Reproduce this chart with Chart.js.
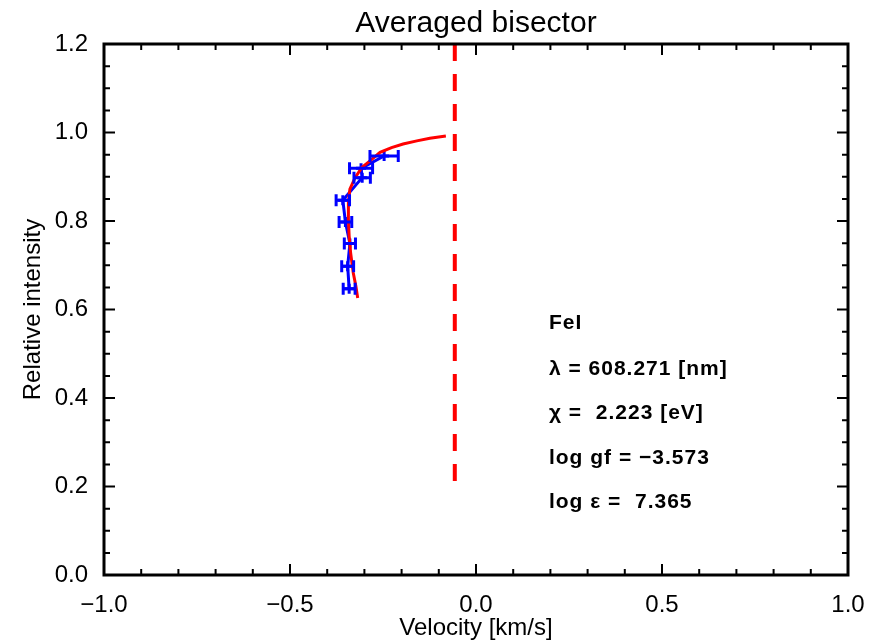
<!DOCTYPE html>
<html>
<head>
<meta charset="utf-8">
<script src="https://cdn.jsdelivr.net/npm/chart.js@4"></script>
<style>
    html, body { margin: 0; padding: 0; background: #fff; }
    #wrap { width: 875px; height: 643px; }
</style>
</head>
<body>
<div id="wrap"><canvas id="bisChart" width="875" height="643"></canvas></div>
<script>
// Red curve: averaged bisector (velocity km/s, relative intensity)
const curveVel = [-0.318, -0.323, -0.330, -0.337, -0.341, -0.343, -0.343, -0.339, -0.325,
                  -0.307, -0.285, -0.258, -0.227, -0.196, -0.159, -0.124, -0.081];
const curveInt = [0.626, 0.653, 0.683, 0.728, 0.766, 0.804, 0.842, 0.872, 0.898,
                  0.921, 0.936, 0.955, 0.966, 0.974, 0.981, 0.987, 0.992];

// Blue points with horizontal error bars
const pointVel = [-0.341, -0.345, -0.339, -0.351, -0.358, -0.306, -0.309, -0.247];
const pointInt = [0.647, 0.698, 0.749, 0.798, 0.847, 0.898, 0.919, 0.947];
const pointErr = [0.016, 0.016, 0.015, 0.017, 0.018, 0.022, 0.031, 0.038];

// Reference (lab) velocity, dashed line (drawn top to bottom)
const refVel = [-0.057, -0.057];
const refInt = [1.2, 0.19];

// Line info text
const infoLines = ["FeI", "\u03bb = 608.271 [nm]", "\u03c7 =  2.223 [eV]",
                   "log gf = \u22123.573", "log \u03b5 =  7.365"];
const infoInt = [0.57, 0.464, 0.366, 0.264, 0.164];

const fontName = "'Liberation Sans', Arial, sans-serif";
const fmt = v => (v < 0 ? "\u2212" : "") + Math.abs(v).toFixed(1);

// frame with inward major/minor ticks on all four sides
const framePlugin = {
    id: "frame",
    afterDatasetsDraw(chart) {
        const ctx = chart.ctx;
        const a = chart.chartArea;
        const xs = chart.scales.x, ys = chart.scales.y;
        ctx.save();
        ctx.strokeStyle = "#000";
        ctx.lineWidth = 3;
        ctx.strokeRect(a.left, a.top, a.right - a.left, a.bottom - a.top);
        ctx.lineWidth = 2;
        ctx.beginPath();
        for (let i = -10; i <= 10; i++) {
            const px = xs.getPixelForValue(i / 10);
            const len = i % 5 === 0 ? 11 : 6;
            ctx.moveTo(px, a.bottom); ctx.lineTo(px, a.bottom - len);
            ctx.moveTo(px, a.top); ctx.lineTo(px, a.top + len);
        }
        for (let j = 0; j <= 24; j++) {
            const py = ys.getPixelForValue(j * 0.05);
            const len = j % 4 === 0 ? 11 : 6;
            ctx.moveTo(a.left, py); ctx.lineTo(a.left + len, py);
            ctx.moveTo(a.right, py); ctx.lineTo(a.right - len, py);
        }
        ctx.stroke();
        ctx.restore();
    }
};

// horizontal error bars on the blue points
const errorBarPlugin = {
    id: "errorBars",
    afterDatasetsDraw(chart) {
        const ctx = chart.ctx;
        const xs = chart.scales.x, ys = chart.scales.y;
        ctx.save();
        ctx.strokeStyle = "#0000ff";
        ctx.lineWidth = 3;
        ctx.beginPath();
        pointVel.forEach((v, i) => {
            const y = ys.getPixelForValue(pointInt[i]);
            const x0 = xs.getPixelForValue(v - pointErr[i]);
            const x1 = xs.getPixelForValue(v + pointErr[i]);
            ctx.moveTo(x0, y); ctx.lineTo(x1, y);
            ctx.moveTo(x0, y - 6); ctx.lineTo(x0, y + 6);
            ctx.moveTo(x1, y - 6); ctx.lineTo(x1, y + 6);
        });
        ctx.stroke();
        ctx.restore();
    }
};

// info text block
const infoPlugin = {
    id: "info",
    afterDraw(chart) {
        const ctx = chart.ctx;
        const xs = chart.scales.x, ys = chart.scales.y;
        ctx.save();
        ctx.fillStyle = "#000";
        ctx.font = "bold 21px " + fontName;
        ctx.letterSpacing = "1px";
        ctx.textBaseline = "middle";
        infoLines.forEach((t, i) => {
            ctx.fillText(t, xs.getPixelForValue(0.196), ys.getPixelForValue(infoInt[i]));
        });
        ctx.restore();
    }
};

new Chart(document.getElementById("bisChart"), {
    type: "scatter",
    data: {
        datasets: [
            {
                data: refVel.map((v, i) => ({ x: v, y: refInt[i] })),
                showLine: true,
                borderColor: "#ff0000",
                borderWidth: 4,
                borderDash: [17, 13],
                pointRadius: 0
            },
            {
                data: curveVel.map((v, i) => ({ x: v, y: curveInt[i] })),
                showLine: true,
                borderColor: "#ff0000",
                borderWidth: 3,
                pointRadius: 0
            },
            {
                data: pointVel.map((v, i) => ({ x: v, y: pointInt[i] })),
                showLine: true,
                borderColor: "#0000ff",
                borderWidth: 3,
                pointStyle: "cross",
                pointRadius: 5,
                pointBorderWidth: 3,
                pointBorderColor: "#0000ff"
            }
        ]
    },
    options: {
        responsive: false,
        animation: false,
        layout: { padding: { right: 27, top: 0 } },
        plugins: {
            legend: { display: false },
            tooltip: { enabled: false },
            title: {
                display: true,
                fullSize: false,
                text: "Averaged bisector",
                color: "#000",
                font: { family: fontName, size: 30, weight: "normal" },
                padding: { top: 6, bottom: 2 }
            }
        },
        scales: {
            x: {
                type: "linear",
                min: -1, max: 1,
                grid: { display: false },
                border: { display: false },
                ticks: {
                    stepSize: 0.5,
                    color: "#000",
                    padding: 8,
                    font: { family: fontName, size: 24 },
                    callback: v => fmt(v)
                },
                title: {
                    display: true,
                    text: "Velocity [km/s]",
                    color: "#000",
                    padding: 0,
                    font: { family: fontName, size: 24 }
                },
                afterFit: s => { s.height = 68; }
            },
            y: {
                type: "linear",
                min: 0, max: 1.2,
                grid: { display: false },
                border: { display: false },
                ticks: {
                    stepSize: 0.2,
                    color: "#000",
                    padding: 8,
                    font: { family: fontName, size: 24 },
                    callback: v => fmt(v)
                },
                title: {
                    display: true,
                    text: "Relative intensity",
                    color: "#000",
                    padding: { top: 19, bottom: 0 },
                    font: { family: fontName, size: 24 }
                },
                afterFit: s => { s.width = 104; }
            }
        }
    },
    plugins: [errorBarPlugin, framePlugin, infoPlugin]
});
</script>
</body>
</html>
